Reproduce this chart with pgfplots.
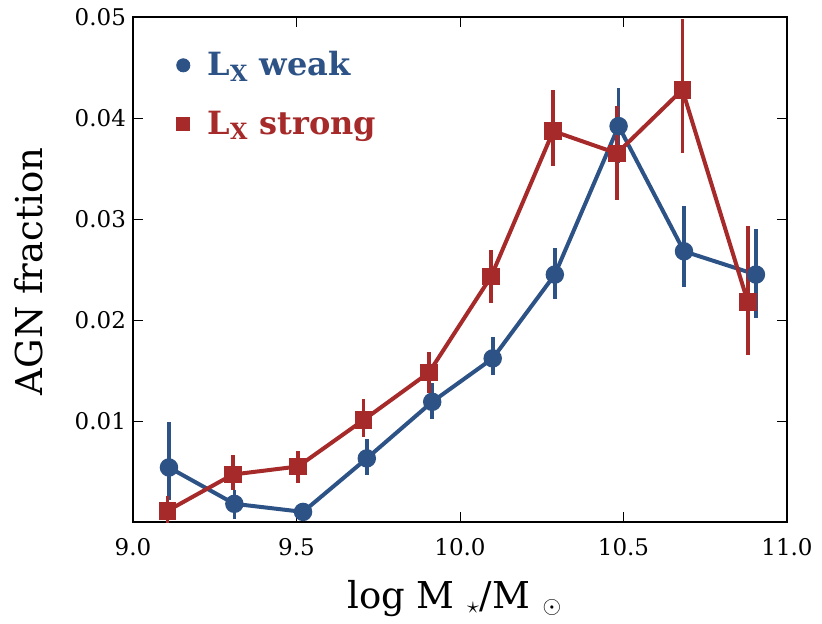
\documentclass[border=0pt]{standalone}
\usepackage{pgfplots}
\pgfplotsset{compat=1.18}
\usepackage{fontspec}
\setmainfont{DejaVu Serif}
\definecolor{c1}{RGB}{44,82,134}
\definecolor{c2}{RGB}{166,42,42}
\begin{document}
\begin{tikzpicture}
\begin{axis}[
  scale only axis,
  width=327pt, height=252.5pt,
  xmin=9.0, xmax=11.0,
  ymin=0, ymax=0.05,
  xtick={9.0,9.5,...,11.0},
  ytick={0.01,0.02,0.03,0.04,0.05},
  tick align=inside,
  major tick length=5pt,
  tick style={black, line width=0.5pt},
  axis line style={black, line width=1.3pt},
  /pgf/number format/assume math mode=true,
  xticklabel style={yshift=-4.5pt, font=\fontsize{11.5}{13}\selectfont, /pgf/number format/.cd, fixed, fixed zerofill, precision=1},
  yticklabel style={font=\fontsize{11.5}{13}\selectfont, /pgf/number format/.cd, fixed, fixed zerofill, precision=2},
  scaled y ticks=false,
  xlabel={log M\,\,\textsubscript{$\star$}/M\,\,\textsubscript{\large$\odot$}},
  ylabel={AGN fraction},
  label style={font=\fontsize{18.5}{22}\selectfont},
  xlabel style={at={(axis description cs:0.492,-0.171)}, anchor=base},
  ylabel style={at={(axis description cs:-0.159,0.496)}, anchor=center},
  legend image code/.code={
    \path (0pt,0pt) (13pt,0pt);
    \draw[#1] plot coordinates {(3pt,0pt)};
  },
  legend style={at={(axis description cs:0.057,0.948)}, anchor=north west,
    draw=none, fill=none, font=\fontsize{16}{19}\selectfont\bfseries,
    row sep=12pt, legend cell align=left},
  error bars/error mark=none,
]
\addlegendimage{only marks, mark=*, mark size=3.3pt, c1}
\addlegendentry{\textcolor{c1}{L\textsubscript{X} weak}}
\addlegendimage{only marks, mark=square*, mark size=3.2pt, c2}
\addlegendentry{\textcolor{c2}{L\textsubscript{X} strong}}

\addplot[forget plot, c1, line width=2pt, mark=*, mark size=3.6pt,
  error bars/.cd, y dir=both, y explicit,
  error bar style={line width=1.8pt, c1}]
coordinates {
  (9.11,0.0054) += (0,0.0045) -= (0,0.0032)
  (9.31,0.0018) += (0,0.0014) -= (0,0.0015)
  (9.52,0.0010) += (0,0.0007) -= (0,0.0007)
  (9.715,0.0063) += (0,0.0019) -= (0,0.0016)
  (9.915,0.0119) += (0,0.0019) -= (0,0.0017)
  (10.10,0.0162) += (0,0.0021) -= (0,0.0016)
  (10.29,0.0245) += (0,0.0026) -= (0,0.0024)
  (10.485,0.0392) += (0,0.0038) -= (0,0.0037)
  (10.685,0.0268) += (0,0.0045) -= (0,0.0035)
  (10.905,0.0245) += (0,0.0045) -= (0,0.0043)
};

\addplot[forget plot, c2, line width=2pt, mark=square*, mark size=3.4pt,
  error bars/.cd, y dir=both, y explicit,
  error bar style={line width=1.8pt, c2}]
coordinates {
  (9.105,0.0011) += (0,0.0015) -= (0,0.0015)
  (9.305,0.0047) += (0,0.0019) -= (0,0.0015)
  (9.505,0.0055) += (0,0.0015) -= (0,0.0016)
  (9.705,0.0101) += (0,0.0021) -= (0,0.0017)
  (9.905,0.0148) += (0,0.0020) -= (0,0.0020)
  (10.095,0.0243) += (0,0.0026) -= (0,0.0026)
  (10.285,0.0387) += (0,0.0041) -= (0,0.0035)
  (10.48,0.0365) += (0,0.0047) -= (0,0.0046)
  (10.68,0.0428) += (0,0.0070) -= (0,0.0063)
  (10.88,0.0218) += (0,0.0075) -= (0,0.0053)
};
\end{axis}
\path (-66.5pt,-49.5pt) rectangle (344.5pt,261pt);
\end{tikzpicture}
\end{document}
